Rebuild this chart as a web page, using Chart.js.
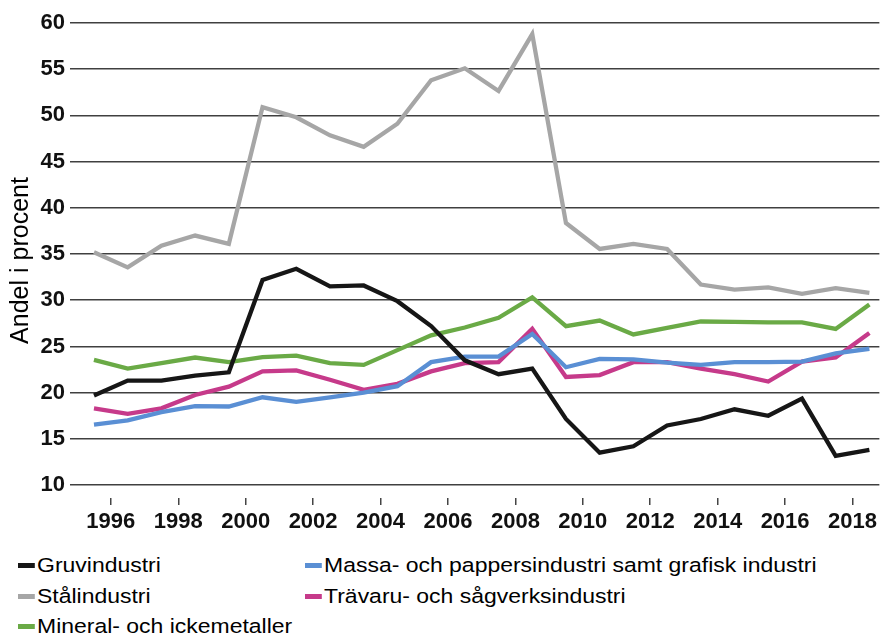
<!DOCTYPE html>
<html><head><meta charset="utf-8">
<script src="https://cdn.jsdelivr.net/npm/chart.js@4/dist/chart.umd.min.js"></script>
<style>
html,body{margin:0;padding:0;background:#fff;}
#wrap{position:relative;width:881px;height:635px;overflow:hidden;}
#c{position:absolute;left:0;top:0;}
.leg{position:absolute;font:20.5px "Liberation Sans",Arial,sans-serif;color:#000;white-space:nowrap;line-height:26px;height:26px;transform:scaleX(1.12);transform-origin:0 50%;}
.sw{display:inline-block;width:15px;height:5px;vertical-align:middle;margin-right:2px;position:relative;top:-1px;}
</style></head>
<body><div id="wrap"><canvas id="c" width="881" height="540"></canvas><div id="legend"></div></div>
<script>
const years = [1996,1997,1998,1999,2000,2001,2002,2003,2004,2005,2006,2007,2008,2009,2010,2011,2012,2013,2014,2015,2016,2017,2018,2019];
const gruvindustri = [19.7,21.3,21.3,21.85,22.2,32.2,33.4,31.5,31.6,29.9,27.2,23.5,22.0,22.6,17.15,13.5,14.2,16.45,17.15,18.2,17.5,19.35,13.15,13.8];
const massaPapper = [16.55,17.0,17.9,18.55,18.5,19.5,19.0,19.5,20.0,20.7,23.3,23.9,23.9,26.35,22.75,23.65,23.6,23.25,23.0,23.3,23.3,23.35,24.25,24.75];
const stalindustri = [35.2,33.55,35.9,37.0,36.1,50.9,49.8,47.85,46.6,49.1,53.8,55.1,52.65,58.8,38.35,35.55,36.1,35.55,31.7,31.15,31.4,30.7,31.3,30.8];
const travaru = [18.3,17.7,18.3,19.75,20.65,22.3,22.4,21.4,20.3,20.95,22.3,23.2,23.3,26.9,21.7,21.9,23.3,23.3,22.6,22.0,21.2,23.35,23.8,26.45];
const mineral = [23.55,22.6,23.2,23.8,23.3,23.85,24.0,23.2,23.0,24.6,26.2,27.05,28.1,30.3,27.2,27.8,26.3,27.0,27.7,27.65,27.6,27.6,26.9,29.55];
const xTickLabels = [1996,1998,2000,2002,2004,2006,2008,2010,2012,2014,2016,2018];
const yTickValues = [10,15,20,25,30,35,40,45,50,55,60];
const seriesNames = ['Gruvindustri','Massa- och pappersindustri samt grafisk industri','Stålindustri','Trävaru- och sågverksindustri','Mineral- och ickemetaller'];
const seriesValues = [gruvindustri, massaPapper, stalindustri, travaru, mineral];
const seriesColors = ['#161616','#5a8fd4','#a6a6a6','#c63a8a','#6aaa46'];

const FONT = '"Liberation Sans", Arial, sans-serif';
const datasets = seriesNames.map((n,i)=>({
  label:n,
  data: years.map((y,j)=>({x:y,y:seriesValues[i][j]})),
  borderColor: seriesColors[i],
  backgroundColor: seriesColors[i],
  borderWidth: 4.3,
  pointRadius: 0,
  tension: 0,
  fill:false,
  borderJoinStyle:'miter'
}));

new Chart(document.getElementById('c'), {
  type:'line',
  data:{datasets},
  options:{
    responsive:false, animation:false,
    layout:{padding:{top:23,right:0,bottom:0,left:0}},
    plugins:{legend:{display:false},tooltip:{enabled:false}},
    scales:{
      x:{
        type:'linear', min:1995.467, max:2019.296,
        afterBuildTicks:(s)=>{ s.ticks = xTickLabels.map(v=>({value:v+0.5})); },
        afterFit:(s)=>{ s.height = 42; },
        border:{display:false},
        grid:{drawOnChartArea:false, drawTicks:true, tickLength:7, color:'#444', lineWidth:1.5},
        ticks:{autoSkip:false, maxRotation:0, padding:4, color:'#111', font:{family:FONT,size:22,weight:'bold'},
          callback:(v)=>String(Math.floor(v))}
      },
      y:{
        min:8.6, max:60,
        afterBuildTicks:(s)=>{ s.ticks = yTickValues.map(v=>({value:v})); },
        afterFit:(s)=>{ s.width = 76; },
        border:{display:false},
        grid:{color:'#404040', lineWidth:1.5, tickLength:6, drawTicks:true},
        ticks:{padding:5, color:'#111', font:{family:FONT,size:22,weight:'bold'}},
        title:{display:true, text:'Andel i procent', color:'#000', font:{family:FONT,size:25}, padding:{top:6,bottom:0}}
      }
    }
  }
});

// legend (2 columns, row-major)
const leg = document.getElementById('legend');
const colX = [18, 305];
const rowY = [552, 583, 613];
seriesNames.forEach((n,i)=>{
  const d = document.createElement('div');
  d.className='leg';
  d.style.left = colX[i%2]+'px';
  d.style.top = rowY[Math.floor(i/2)]+'px';
  d.innerHTML = '<span class="sw" style="background:'+seriesColors[i]+'"></span>'+n;
  leg.appendChild(d);
});
</script>
</body></html>
